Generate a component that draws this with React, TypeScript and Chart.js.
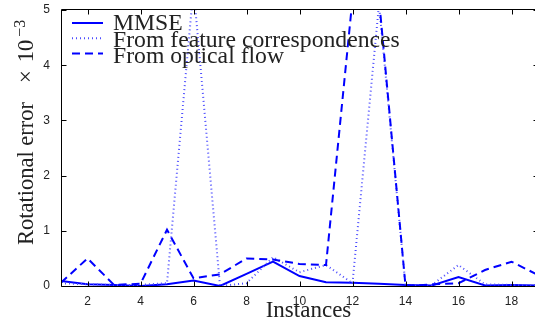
import React, { useEffect, useRef } from "react";
import { Chart, registerables } from "chart.js";

Chart.register(...registerables);

// ---- data ----
const instances = [1, 2, 3, 4, 5, 6, 7, 8, 9, 10, 11, 12, 13, 14, 15, 16, 17, 18, 19];
const mmse = [0.09, 0.03, 0.02, 0.0, 0.03, 0.1, 0.0, 0.22, 0.44, 0.18, 0.07, 0.06, 0.04, 0.02, 0.01, 0.16, 0.01, 0.02, 0.01];
const featureCorr = [0.05, 0.03, 0.02, 0.02, 0.05, 5.4, 0.0, 0.05, 0.52, 0.25, 0.38, 0.05, 5.1, 0.0, 0.02, 0.38, 0.03, 0.02, 0.02];
const opticalFlow = [0.06, 0.5, 0.02, 0.04, 1.02, 0.14, 0.21, 0.5, 0.48, 0.4, 0.38, 5.2, 5.2, 0.0, 0.03, 0.05, 0.29, 0.44, 0.2];
const seriesLabels = ["MMSE", "From feature correspondences", "From optical flow"];
const xTickValues = [2, 4, 6, 8, 10, 12, 14, 16, 18];
const yTickValues = [0, 1, 2, 3, 4, 5];
const xTitle = "Instances";
const yTitleMain = "Rotational error";
const yTitleTimes = "×";
const yTitleBase = "10";
const yTitleExp = "−3";

const SERIF = '"Liberation Serif", "Times New Roman", serif';
const SANS = '"Liberation Sans", Arial, sans-serif';
const TEXT = "#222";

const framePlugin = {
  id: "frame",
  afterDraw(chart: any) {
    const { ctx, chartArea, scales } = chart;
    const { left, right, top, bottom } = chartArea;
    const xs = scales.x;
    const ys = scales.y;
    ctx.save();
    // axes box
    ctx.strokeStyle = "#000";
    ctx.lineWidth = 1;
    const L = Math.floor(left) + 0.5;
    const B = Math.floor(bottom) + 0.5;
    const T = Math.floor(top) - 0.5;
    const R = Math.floor(right) + 0.5;
    ctx.beginPath();
    ctx.moveTo(L, T);
    ctx.lineTo(R, T);
    ctx.lineTo(R, B);
    ctx.lineTo(L, B);
    ctx.closePath();
    ctx.stroke();
    // inward ticks
    ctx.beginPath();
    const tl = 5;
    xTickValues.forEach((v) => {
      const px = Math.round(xs.getPixelForValue(v)) + 0.5;
      ctx.moveTo(px, B);
      ctx.lineTo(px, B - tl);
      ctx.moveTo(px, T);
      ctx.lineTo(px, T + tl);
    });
    yTickValues.forEach((v) => {
      const py = Math.round(ys.getPixelForValue(v)) + 0.5;
      ctx.moveTo(L, py);
      ctx.lineTo(L + tl, py);
      ctx.moveTo(R, py);
      ctx.lineTo(R - tl, py);
    });
    ctx.stroke();

    // legend
    const dsets = chart.data.datasets;
    dsets.forEach((ds: any, i: number) => {
      const sy = top + 13 + 15.2 * i;
      ctx.save();
      ctx.strokeStyle = ds.borderColor;
      ctx.lineWidth = ds.borderWidth;
      ctx.setLineDash(ds.borderDash || []);
      ctx.beginPath();
      ctx.moveTo(left + 11, sy);
      ctx.lineTo(left + 42, sy);
      ctx.stroke();
      ctx.restore();
      ctx.fillStyle = TEXT;
      ctx.font = `23.7px ${SERIF}`;
      ctx.textAlign = "left";
      ctx.textBaseline = "alphabetic";
      ctx.fillText(ds.label, left + 52, top + 20 + 16.6 * i);
    });

    // x title
    ctx.fillStyle = TEXT;
    ctx.font = `23px ${SERIF}`;
    ctx.textAlign = "center";
    ctx.textBaseline = "alphabetic";
    ctx.fillText(xTitle, (left + right) / 2 + 9, bottom + 31);

    // y title (rotated)
    ctx.save();
    ctx.translate(33, bottom - 41);
    ctx.rotate(-Math.PI / 2);
    ctx.textAlign = "left";
    ctx.font = `22.5px ${SERIF}`;
    ctx.fillText(yTitleMain, 0, 0);
    const w1 = ctx.measureText(yTitleMain).width;
    const x1 = w1 + 19;
    ctx.fillText(yTitleTimes, x1, 0);
    const x2 = x1 + ctx.measureText(yTitleTimes).width + 8;
    ctx.fillText(yTitleBase, x2, 0);
    const x3 = x2 + ctx.measureText(yTitleBase).width + 3;
    ctx.font = `16px ${SERIF}`;
    ctx.fillText(yTitleExp, x3, -8);
    ctx.restore();

    ctx.restore();
  },
};

export default function App() {
  const ref = useRef<HTMLCanvasElement | null>(null);

  useEffect(() => {
    if (!ref.current) return;
    const mk = (vals: number[]) => instances.map((x, i) => ({ x, y: vals[i] }));
    const chart = new Chart(ref.current, {
      type: "line",
      data: {
        datasets: [
          {
            label: seriesLabels[0],
            data: mk(mmse),
            borderColor: "#0000ff",
            borderWidth: 2,
            borderDash: [],
            pointRadius: 0,
            tension: 0,
            fill: false,
            order: 3,
          },
          {
            label: seriesLabels[1],
            data: mk(featureCorr),
            borderColor: "#4d4dff",
            borderWidth: 2,
            borderDash: [1, 3],
            pointRadius: 0,
            tension: 0,
            fill: false,
            order: 2,
          },
          {
            label: seriesLabels[2],
            data: mk(opticalFlow),
            borderColor: "#0000ff",
            borderWidth: 2,
            borderDash: [8, 5],
            pointRadius: 0,
            tension: 0,
            fill: false,
            order: 1,
          },
        ],
      },
      options: {
        responsive: false,
        animation: false,
        devicePixelRatio: 1,
        layout: { padding: { top: 10, right: 0, left: 0, bottom: 0 } },
        plugins: { legend: { display: false }, tooltip: { enabled: false } },
        scales: {
          x: {
            type: "linear",
            min: 1,
            max: 19,
            grid: { display: false },
            border: { display: false },
            afterBuildTicks: (s: any) => {
              s.ticks = xTickValues.map((v) => ({ value: v }));
            },
            afterFit: (s: any) => {
              s.height = 34;
              s.paddingLeft = 0;
              s.paddingRight = 0;
              s.paddingTop = 0;
              s.paddingBottom = 0;
            },
            ticks: {
              font: { family: SANS, size: 12 },
              color: TEXT,
              padding: 0,
              maxRotation: 0,
              autoSkip: false,
            },
          },
          y: {
            type: "linear",
            min: 0,
            max: 5,
            grid: { display: false },
            border: { display: false },
            afterBuildTicks: (s: any) => {
              s.ticks = yTickValues.map((v) => ({ value: v }));
            },
            afterFit: (s: any) => {
              s.width = 61;
              s.paddingLeft = 0;
              s.paddingRight = 0;
              s.paddingTop = 0;
              s.paddingBottom = 0;
            },
            ticks: {
              font: { family: SANS, size: 12 },
              color: TEXT,
              padding: 3,
            },
          },
        },
      },
      plugins: [framePlugin],
    });
    return () => chart.destroy();
  }, []);

  return (
    <div style={{ position: "absolute", left: 0, top: 0, width: 535, height: 320, overflow: "hidden", background: "#fff" }}>
      <canvas ref={ref} width={538} height={320} style={{ width: 538, height: 320, display: "block" }} />
    </div>
  );
}
